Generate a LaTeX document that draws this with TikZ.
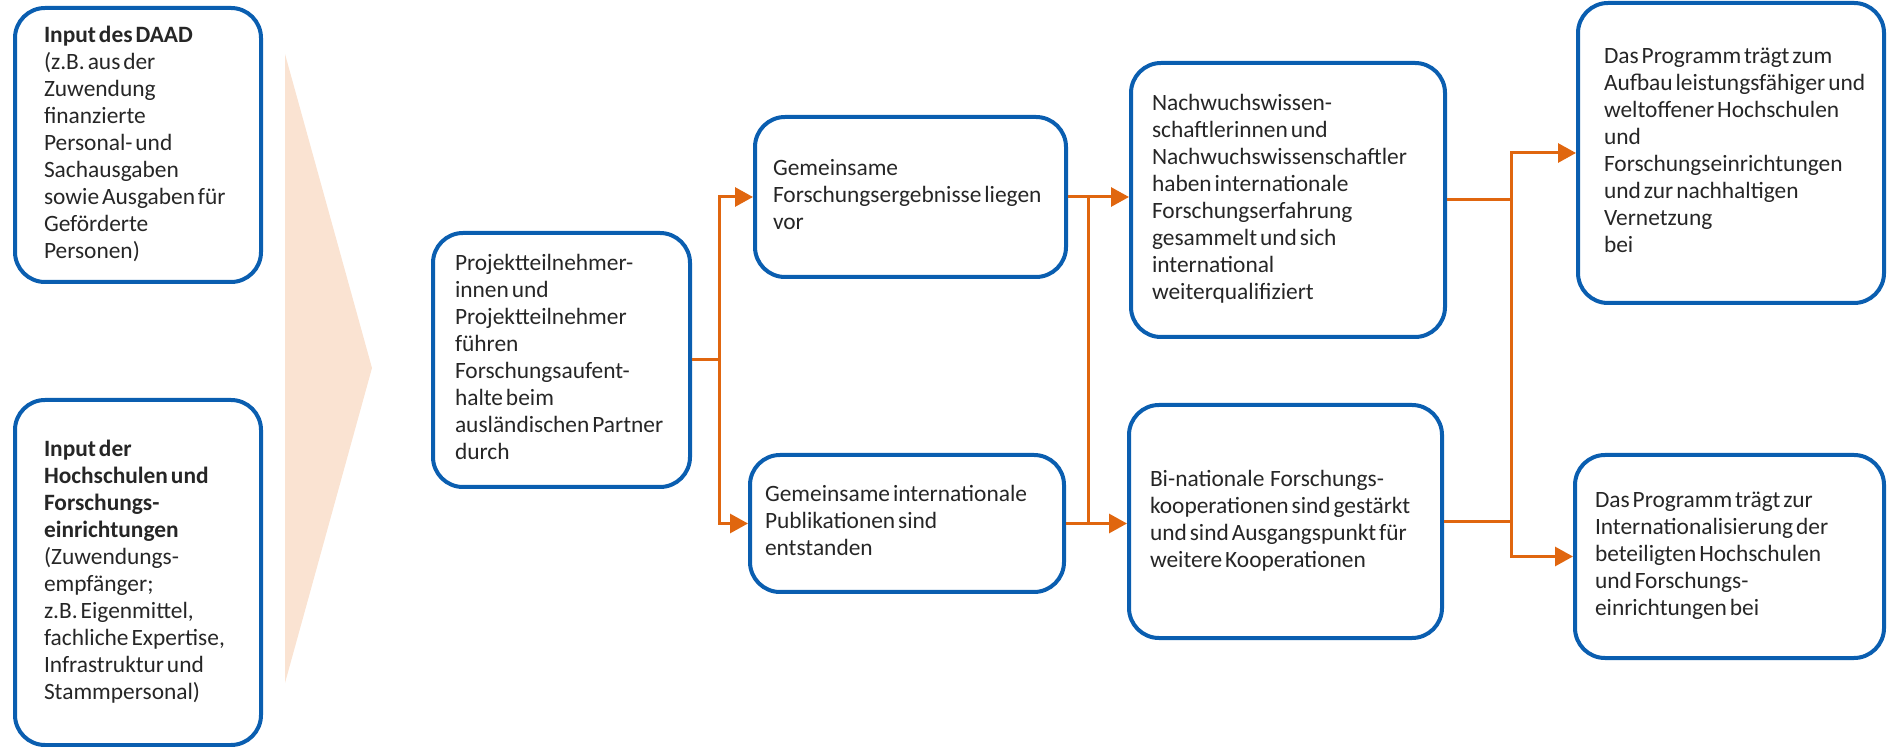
\documentclass[tikz,border=0pt]{standalone}
\usepackage{fontspec}
\setmainfont{Carlito}[WordSpace=0.55]
\usetikzlibrary{arrows.meta}
\definecolor{dblue}{HTML}{0A5EB0}
\definecolor{dorange}{HTML}{E0660F}
\definecolor{peach}{HTML}{FAE3D2}
\newcommand\boxtext[2]{\makebox[#1][l]{\begin{tabular}{@{}l@{}}#2\end{tabular}}}
\begin{document}
\begin{tikzpicture}[x=0.5pt,y=-0.5pt,
  box/.style={draw=dblue, line width=2pt, rounded corners=15pt,
    inner ysep=0pt, font={\fontsize{11.7pt}{13.5pt}\selectfont}, text=black!85},
  conn/.style={draw=dorange, line width=1.5pt},
  arr/.style={conn, -{Triangle[length=9pt,width=9.5pt]}}]
\useasboundingbox (0,0) rectangle (1888,747);
% peach triangle
\fill[peach] (285,54) -- (372,368) -- (285,683) -- cycle;
% boxes
\node[box, inner xsep=14.5pt, minimum width=123pt, minimum height=137pt] (A) at (138,145)
  {\boxtext{94pt}{\textbf{Input des DAAD}\\(z.B. aus der\\Zuwendung\\finanzierte\\Personal- und\\Sachausgaben\\sowie Ausgaben für\\Geförderte\\Personen)}};
\node[box, inner xsep=14.5pt, minimum width=123pt, minimum height=172.5pt] (B) at (138,572.5)
  {\boxtext{94pt}{\textbf{Input der}\\\textbf{Hochschulen und}\\\textbf{Forschungs-}\\\textbf{einrichtungen}\\(Zuwendungs-\\empfänger;\\z.B. Eigenmittel,\\fachliche Expertise,\\Infrastruktur und\\Stammpersonal)}};
\node[box, inner xsep=11pt, minimum width=128.5pt, minimum height=127pt] (C) at (561.5,360)
  {\boxtext{106.5pt}{Projektteilnehmer-\\innen und\\Projektteilnehmer\\führen\\Forschungsaufent-\\halte beim\\ausländischen Partner\\durch}};
\node[box, inner xsep=9pt, minimum width=155.5pt, minimum height=80pt] (D) at (910.5,197)
  {\boxtext{137.5pt}{Gemeinsame\\Forschungsergebnisse liegen\\vor}};
\node[box, inner xsep=7.5pt, minimum width=157pt, minimum height=68.5pt] (E) at (907,523.5)
  {\boxtext{142pt}{Gemeinsame internationale\\Publikationen sind\\entstanden}};
\node[box, inner xsep=10.5pt, minimum width=157pt, minimum height=137pt] (F) at (1288,200)
  {\boxtext{136pt}{Nachwuchswissen-\\schaftlerinnen und\\Nachwuchswissenschaftler\\haben internationale\\Forschungserfahrung\\gesammelt und sich\\international\\weiterqualifiziert}};
\node[box, inner xsep=10.5pt, minimum width=156.5pt, minimum height=116.5pt] (G) at (1285.5,521.5)
  {\boxtext{135.5pt}{Bi-nationale~ Forschungs-\\kooperationen sind gestärkt\\und sind Ausgangspunkt für\\weitere Kooperationen}};
\node[box, inner xsep=13pt, minimum width=153pt, minimum height=150pt] (H) at (1731,153)
  {\boxtext{127pt}{Das Programm trägt zum\\Aufbau leistungsfähiger und\\weltoffener Hochschulen\\und\\Forschungseinrichtungen\\und zur nachhaltigen\\Vernetzung\\bei}};
\node[box, inner xsep=10pt, minimum width=154.5pt, minimum height=101.5pt] (I) at (1729.5,556.5)
  {\boxtext{134.5pt}{Das Programm trägt zur\\Internationalisierung der\\beteiligten Hochschulen\\und Forschungs-\\einrichtungen bei}};
% junction coordinates
\coordinate (j1) at (719,360);
\coordinate (j2) at (1088,360);
\coordinate (j3) at (1511,360);
% connectors
\draw[conn] (C.east) -- (j1);
\draw[arr] (j1) |- (D.west);
\draw[arr] (j1) |- (E.west);
\draw[arr] (D.east) -- (D.east -| F.west);
\draw[arr] (E.east) -- (E.east -| G.west);
\draw[conn] (D.east -| j2) -- (E.east -| j2);
\draw[conn] (F.east) -- (F.east -| j3);
\draw[conn] (G.east) -- (G.east -| j3);
\draw[conn] (F.east -| j3) -- (G.east -| j3);
\draw[arr] (F.east -| j3) |- (H.west);
\draw[arr] (G.east -| j3) |- (I.west);
\end{tikzpicture}
\end{document}
